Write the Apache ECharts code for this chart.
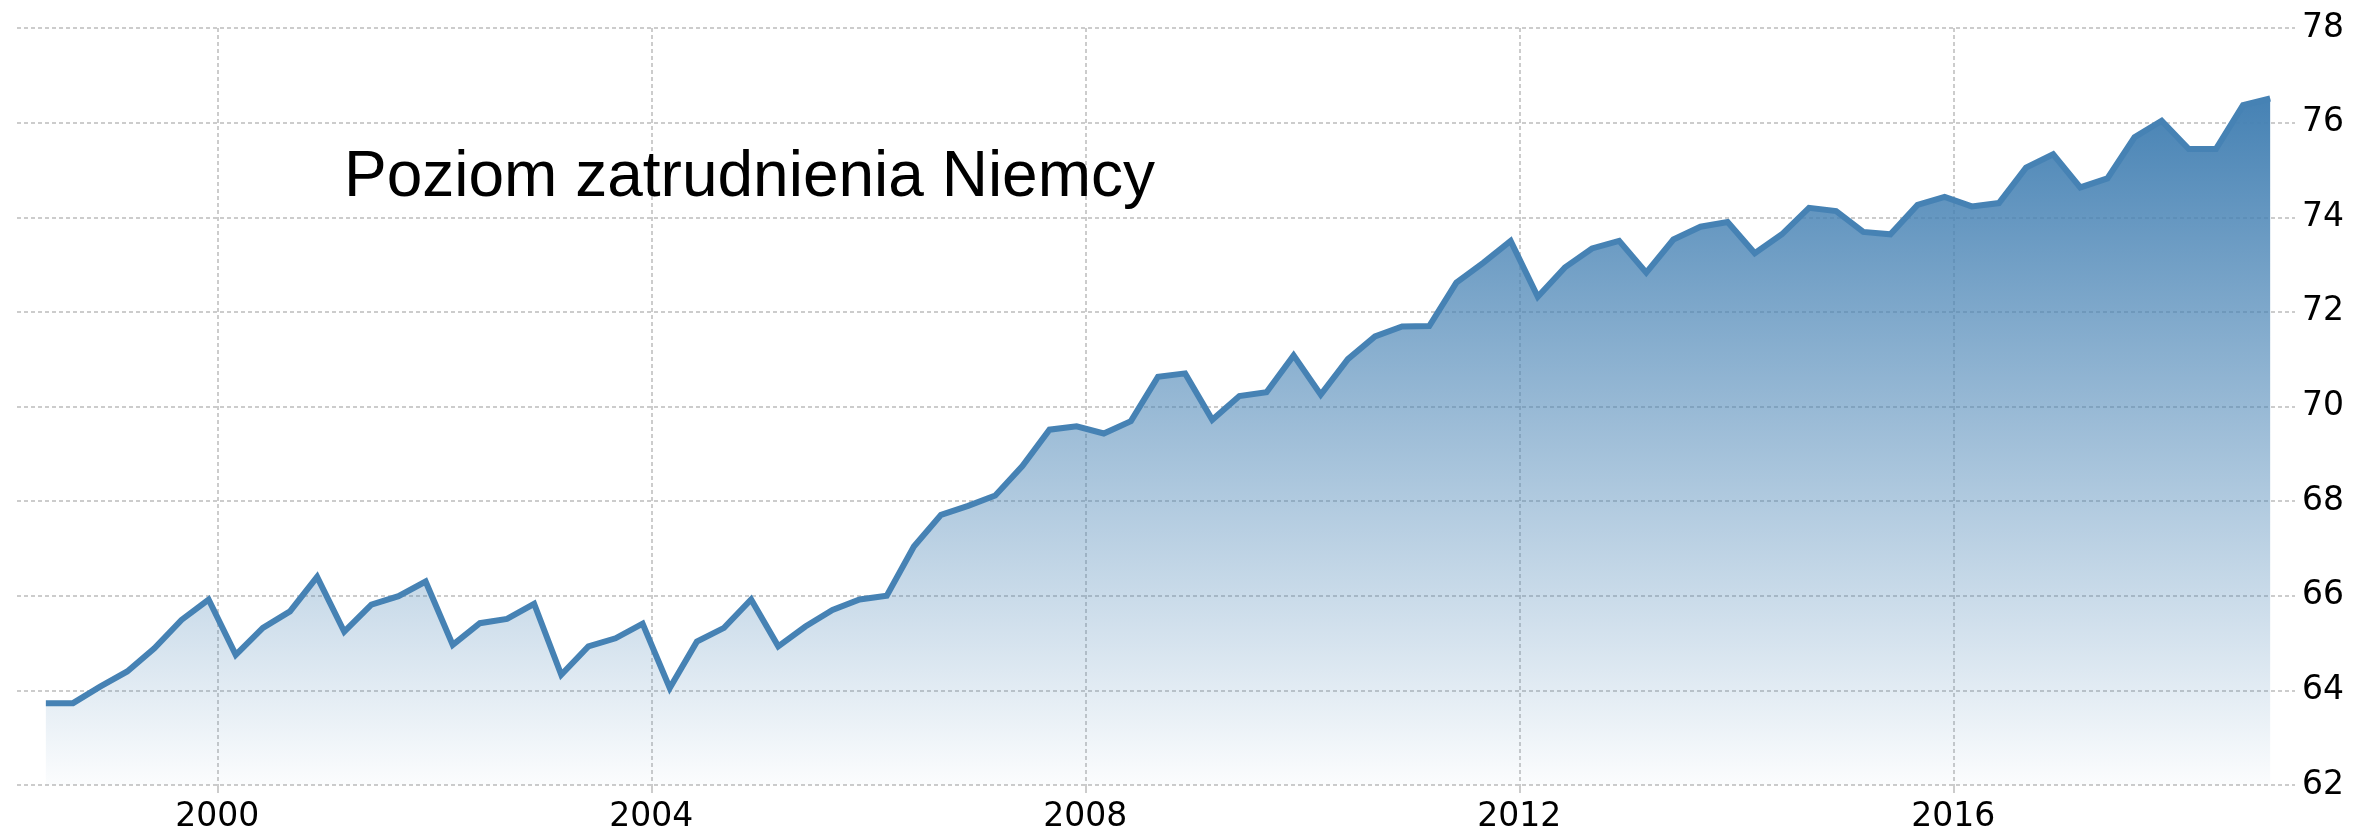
<!DOCTYPE html>
<html>
<head>
<meta charset="utf-8">
<script src="https://cdn.jsdelivr.net/npm/echarts@6/dist/echarts.min.js"></script>
<style>
	html, body { margin: 0; padding: 0; background: #fff; }
	#chart { width: 2365px; height: 837px; }
</style>
</head>
<body>
<div id="chart"></div>
<script>
//dane kwartalne, od 1998 Q2
var startYear = 1998;
var startQuarter = 2;
var values = [
	63.73, 63.73, 64.08, 64.40, 64.89, 65.49, 65.92, 64.75, 65.32, 65.67,
	66.40, 65.24, 65.81, 65.99, 66.30, 64.96, 65.42, 65.51, 65.83, 64.33,
	64.93, 65.10, 65.41, 64.05, 65.03, 65.32, 65.92, 64.93, 65.35, 65.70,
	65.92, 66.00, 67.04, 67.71, 67.90, 68.12, 68.74, 69.51, 69.58, 69.43,
	69.69, 70.63, 70.70, 69.72, 70.22, 70.30, 71.08, 70.25, 71.00, 71.48,
	71.69, 71.70, 72.62, 73.04, 73.50, 72.32, 72.94, 73.34, 73.50, 72.83,
	73.53, 73.80, 73.90, 73.24, 73.64, 74.20, 74.13, 73.69, 73.64, 74.26,
	74.43, 74.23, 74.30, 75.05, 75.33, 74.63, 74.82, 75.69, 76.04, 75.44,
	75.44, 76.37, 76.51
];
var yearTicks = [2000, 2004, 2008, 2012, 2016];
var yTicks = [62, 64, 66, 68, 70, 72, 74, 76, 78];
var titleText = 'Poziom zatrudnienia Niemcy';

//kwartał -> ułamek roku
var quarters = [];
var seriesData = [];
for (var i = 0; i < values.length; i++) {
	var q = startQuarter - 1 + i;
	var y = startYear + Math.floor(q / 4);
	var qq = q % 4 + 1;
	quarters.push(y + ' Q' + qq);
	seriesData.push([y + (qq - 1) / 4 + 0.17, values[i]]);
}

var gridLine = {
	show: true,
	lineStyle: { color: '#cccccc', width: 2, type: [4, 3] }
};

var chart = echarts.init(document.getElementById('chart'));
var option = {
	animation: false,
	backgroundColor: '#fff',
	title: {
		text: titleText,
		left: 344,
		top: 146,
		padding: 0,
		textStyle: {
			fontFamily: 'Liberation Sans',
			fontSize: 64,
			fontWeight: 'normal',
			color: '#000'
		}
	},
	grid: { left: 17, right: 70, top: 28, bottom: 52 },
	xAxis: {
		type: 'value',
		min: 1998.154,
		max: 2019.149,
		axisLine: { show: false },
		axisTick: {
			show: true,
			length: 8,
			customValues: yearTicks,
			lineStyle: { color: '#cccccc', width: 2 }
		},
		axisLabel: {
			customValues: yearTicks,
			formatter: function (v) { return String(v); },
			margin: 16,
			color: '#000',
			fontFamily: 'DejaVu Sans',
			fontSize: 33
		},
		splitLine: gridLine
	},
	yAxis: {
		type: 'value',
		position: 'right',
		min: yTicks[0],
		max: yTicks[yTicks.length - 1],
		interval: 2,
		axisLine: { show: false },
		axisTick: { show: false },
		axisLabel: {
			margin: 7,
			color: '#000',
			fontFamily: 'DejaVu Sans',
			fontSize: 33
		},
		splitLine: gridLine
	},
	series: [{
		name: titleText,
		type: 'line',
		data: seriesData,
		showSymbol: false,
		lineStyle: { color: '#4682b4', width: 6, join: 'miter' },
		itemStyle: { color: '#4682b4' },
		areaStyle: {
			opacity: 1,
			color: new echarts.graphic.LinearGradient(0, 0, 0, 1, [
				{ offset: 0, color: 'rgba(70,130,180,1)' },
				{ offset: 1, color: 'rgba(70,130,180,0.02)' }
			])
		}
	}]
};
chart.setOption(option);
</script>
</body>
</html>
